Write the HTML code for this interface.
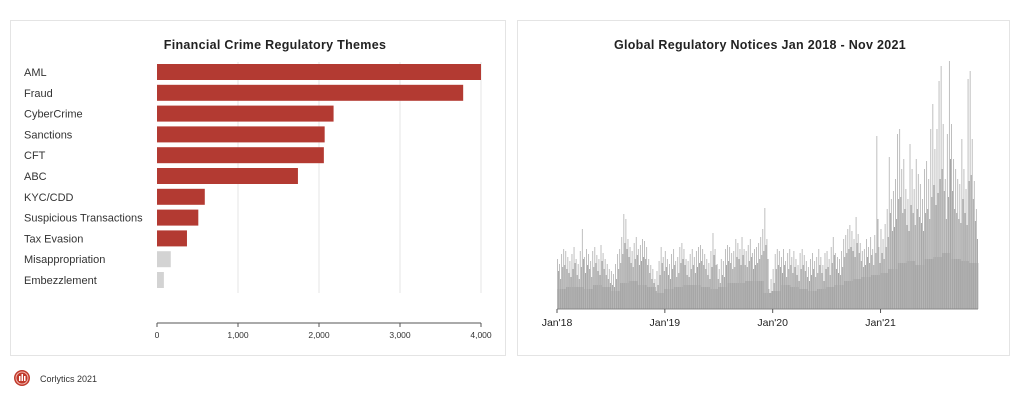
<!DOCTYPE html>
<html><head><meta charset="utf-8"><style>
body{margin:0;width:1024px;height:406px;background:#fff;font-family:"Liberation Sans",sans-serif;overflow:hidden;position:relative}
.panel{position:absolute;border:1px solid #e4e4e4;background:#fff}
svg text{font-family:"Liberation Sans",sans-serif}
</style></head><body>
<div class="panel" style="left:10px;top:20px;width:494px;height:334px"></div>
<div class="panel" style="left:517px;top:20px;width:491px;height:334px"></div>
<svg id="c" width="1024" height="406" style="position:absolute;left:0;top:0">
<text x="275" y="49" text-anchor="middle" font-size="12.5" font-weight="bold" fill="#222" letter-spacing="0.3">Financial Crime Regulatory Themes</text>
<text x="760" y="49" text-anchor="middle" font-size="12.5" font-weight="bold" fill="#222" letter-spacing="0.3">Global Regulatory Notices Jan 2018 - Nov 2021</text>
<g id="left"></g><g id="right"></g>
<circle cx="22" cy="378" r="8" fill="#c0392b"/>
<circle cx="22" cy="378" r="6" fill="none" stroke="#f2b8b0" stroke-width="1"/>
<rect x="19" y="376" width="1.5" height="5" fill="#fff"/><rect x="21.5" y="374" width="1.5" height="7" fill="#fff"/><rect x="24" y="376" width="1.5" height="5" fill="#fff"/>
<text x="40" y="382" font-size="9" fill="#333">Corlytics 2021</text>
</svg>
<script>
const categories=["AML","Fraud","CyberCrime","Sanctions","CFT","ABC","KYC/CDD","Suspicious Transactions","Tax Evasion","Misappropriation","Embezzlement"];
const counts=[4000,3780,2180,2070,2060,1740,590,510,370,170,85];
const highlighted=[1,1,1,1,1,1,1,1,1,0,0];
const xTicks=[0,1000,2000,3000,4000];
const xTickLabels=["0","1,000","2,000","3,000","4,000"];
const NS="http://www.w3.org/2000/svg";
function mk(t,a,p){const e=document.createElementNS(NS,t);for(const k in a)e.setAttribute(k,a[k]);p.appendChild(e);return e;}
const L=document.getElementById('left');
const x0=157,x1=481,xMax=4000;
const xs=v=>x0+(v/xMax)*(x1-x0);
const ys=i=>64+i*20.8;
xTicks.forEach((t,i)=>{
 if(t>0){const g=mk('line',{x1:xs(t),x2:xs(t),y1:62,y2:293,stroke:'#e6e6e6'},L);
 
 }
 const tk=mk('line',{x1:xs(t),x2:xs(t),y1:323,y2:327,stroke:'#555'},L);
 
 
 const tl=mk('text',{x:xs(t),y:338,'text-anchor':'middle','font-size':'8.5',fill:'#333'},L);
 tl.textContent=xTickLabels[i];
 
 
});
const ax=mk('line',{x1:x0,x2:x1,y1:323,y2:323,stroke:'#555'},L);


categories.forEach((c,i)=>{
 const b=mk('rect',{x:x0,y:ys(i),width:xs(counts[i])-x0,height:16,fill:highlighted[i]?'#b33a32':'#d3d3d3'},L);
 
 
 const t=mk('text',{x:24,y:ys(i)+12,'font-size':'11',fill:'#333'},L);
 t.textContent=c;
 
 
});
const weeklyPeaks=[50,45,55,60,58,52,48,55,62,50,45,58,80,52,60,55,48,58,62,54,50,64,56,50,45,40,38,35,45,55,60,72,95,90,70,62,58,66,72,60,64,70,68,62,50,44,40,30,38,48,62,52,
58,50,45,55,60,48,52,62,66,60,50,48,55,60,52,58,62,64,60,55,50,46,58,76,60,45,40,50,48,60,64,62,56,58,70,66,60,72,60,58,64,70,56,60,62,66,72,80,101,70,20,30,
40,55,60,58,52,60,48,56,60,52,58,50,44,56,60,54,48,42,50,56,48,52,60,52,44,56,58,50,62,72,56,52,50,58,70,74,80,84,78,70,92,75,66,58,60,70,62,72,60,74,173,62,
80,70,85,100,152,110,118,130,175,180,140,150,120,110,165,140,120,150,135,125,110,140,148,130,180,205,160,180,228,243,185,130,175,248,185,150,140,130,125,170,140,120,230,238,170,128,100];
const weeklyMid=[38,30,42,44,40,36,32,40,46,34,30,42,50,36,44,40,32,42,46,38,34,48,40,34,30,26,24,22,30,40,46,55,66,60,52,46,42,50,54,44,48,52,50,44,36,30,26,18,24,34,46,38,
42,34,30,40,44,32,36,46,50,44,34,32,40,44,36,42,46,48,44,40,34,30,42,54,44,30,26,34,32,44,48,46,40,42,52,50,44,54,44,42,48,52,40,44,46,50,54,58,64,50,12,18,
26,40,44,42,36,44,32,40,44,36,42,34,28,40,44,38,32,28,34,40,32,36,44,36,28,40,42,34,46,54,40,36,34,42,52,56,60,62,58,52,66,56,48,42,44,52,46,54,44,56,90,46,
56,50,62,72,96,78,82,90,110,112,96,100,84,78,104,96,84,100,92,86,78,96,100,90,112,124,104,116,130,140,118,90,112,150,118,100,96,90,86,110,96,84,128,134,110,88,70];
const monthlyBase=[20,22,22,20,24,22,18,26,28,24,22,16,20,22,24,24,22,20,22,26,26,28,28,16,18,24,22,20,18,20,22,24,28,30,32,34,36,40,46,48,44,50,52,56,50,48,46];
const timeLabels=["Jan'18","Jan'19","Jan'20","Jan'21"];
const R=document.getElementById('right');
const rx0=557,rx1=978,base=309,yUnit=1;
const ww=(rx1-rx0)/weeklyPeaks.length;
const wx=i=>rx0+i*ww;
const mx=i=>rx0+i*(rx1-rx0)/monthlyBase.length;
const yv=v=>base-v*yUnit;
monthlyBase.forEach((v,i)=>{
 const b=mk('rect',{x:mx(i),y:yv(v),width:(rx1-rx0)/monthlyBase.length+0.3,height:v*yUnit,fill:'#a2a2a2'},R);
 
 
});
weeklyPeaks.forEach((v,i)=>{
 const l=mk('rect',{x:wx(i),y:yv(v),width:0.9,height:v*yUnit,fill:'#b8b8b8'},R);
 
 
});
weeklyMid.forEach((v,i)=>{
 const l2=mk('rect',{x:wx(i)+ww/2,y:yv(v),width:1,height:v*yUnit,fill:'#a6a6a6'},R);
 
 
});
const ax2=mk('line',{x1:rx0,x2:rx1,y1:base,y2:base,stroke:'#888'},R);


timeLabels.forEach((t,i)=>{
 const x=wx(i*52);
 const tk=mk('line',{x1:x,x2:x,y1:base,y2:base+4,stroke:'#555'},R);
 
 
 const tl=mk('text',{x:x,y:base+17,'text-anchor':'middle','font-size':'10.5',fill:'#222'},R);
 tl.textContent=t;
 
 
});
</script>
</body></html>
